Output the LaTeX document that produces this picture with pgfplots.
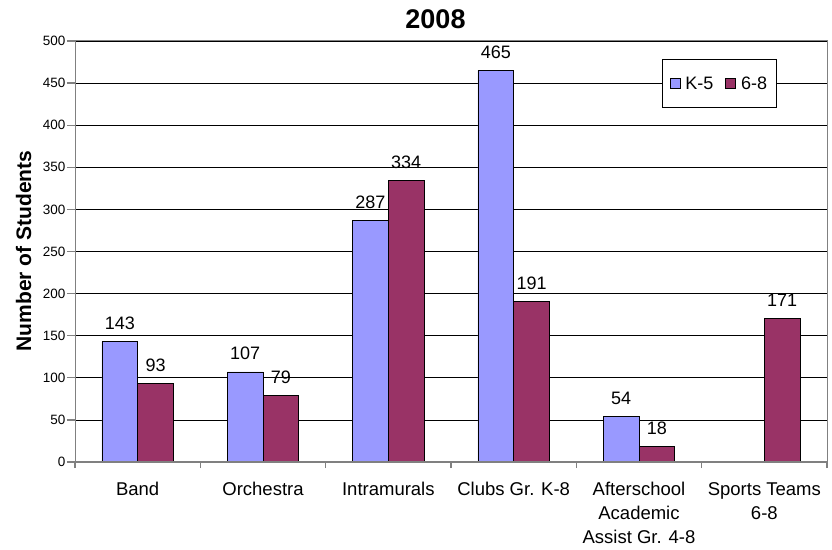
\documentclass[border=0pt]{standalone}
\usepackage{pgfplots}
\pgfplotsset{compat=1.18}
\usepackage{fontspec}
\setmainfont{Liberation Sans}
\definecolor{kfive}{HTML}{9999FF}
\definecolor{sixeight}{HTML}{993366}
\definecolor{axgray}{HTML}{808080}
\begin{document}
\begin{tikzpicture}
\path[use as bounding box] (0,0) rectangle (832pt,549pt);
\begin{axis}[
  at={(75pt,87pt)}, anchor=south west,
  scale only axis, width=752pt, height=421pt,
  xmin=-0.5, xmax=5.5, ymin=0, ymax=500,
  ybar=0pt, bar width=35.7pt,
  /pgf/number format/assume math mode=true,
  ytick={0,50,...,500},
  ymajorgrids, grid style={black, line width=0.8pt},
  axis line style={axgray, line width=1pt},
  tick align=outside,
  major tick length=8pt, minor tick length=6pt,
  xtick={0,...,5},
  xticklabels={Band, Orchestra, Intramurals, Clubs Gr. K-8, {Afterschool\\Academic\\Assist Gr. 4-8}, {Sports Teams\\6-8}},
  major x tick style={draw=none},
  minor xtick={-0.5,0.5,...,5.5},
  minor x tick style={axgray, line width=1.2pt},
  ytick style={axgray, line width=1.2pt},
  xtick pos=bottom, ytick pos=left,
  xticklabel style={align=center, font=\fontsize{18.5}{24}\selectfont, yshift=-9pt},
  yticklabel style={font=\fontsize{13.5}{15}\selectfont, inner sep=1.5pt},
  nodes near coords,
  every node near coord/.append style={font=\fontsize{18}{20}\selectfont, inner sep=0pt, yshift=11.5pt, black},
  legend style={at={(0.7806,0.957)}, anchor=north west, draw=black, line width=1pt,
    inner xsep=7pt, inner ysep=15pt,
    font=\fontsize{18}{20}\selectfont,
    /tikz/every odd column/.append style={column sep=3pt},
    /tikz/every even column/.append style={column sep=10pt},
    nodes={inner sep=2pt}},
  legend columns=2,
]
\addplot[fill=kfive, draw=black, line width=0.8pt,
  legend image code/.code={\draw[fill=kfive, draw=black, line width=0.8pt] (0pt,-5pt) rectangle (10pt,5pt);}]
  coordinates {(0,143) (1,107) (2,287) (3,465) (4,54)};
\addplot[fill=sixeight, draw=black, line width=0.8pt,
  legend image code/.code={\draw[fill=sixeight, draw=black, line width=0.8pt] (0pt,-5pt) rectangle (10pt,5pt);}]
  coordinates {(0,93) (1,79) (2,334) (3,191) (4,18) (5,171)};
\legend{K-5, 6-8}
\draw[axgray, line width=2pt] (rel axis cs:0,1) -- (rel axis cs:0,0) -- (rel axis cs:1,0);
\end{axis}
\node[anchor=base, font=\bfseries\fontsize{27}{30}\selectfont] at (435.5pt,520pt) {2008};
\node[rotate=90, font=\bfseries\fontsize{21}{24}\selectfont] at (23.7pt,298pt) {Number of Students};
\end{tikzpicture}
\end{document}
